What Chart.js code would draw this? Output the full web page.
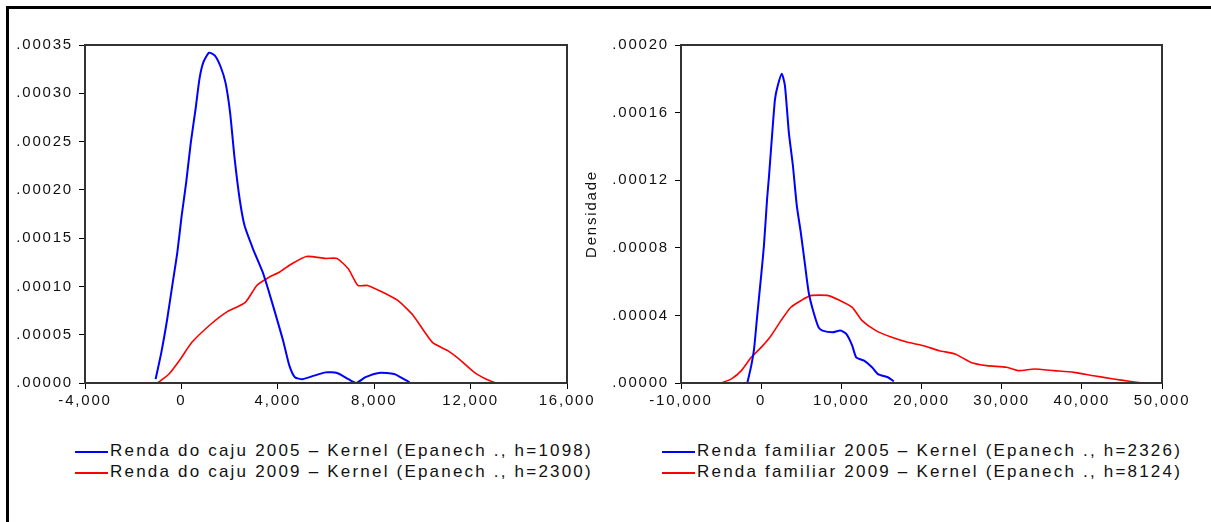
<!DOCTYPE html>
<html>
<head>
<meta charset="utf-8">
<script src="https://cdn.jsdelivr.net/npm/chart.js@4/dist/chart.umd.min.js"></script>
<style>
  body { margin: 0; background: #fff; width: 1211px; height: 522px; overflow: hidden; position: relative; font-family: 'Liberation Sans', Arial, sans-serif; }
  .frame { position: absolute; left: 6px; top: 6px; width: 1220px; height: 530px; border-left: 3px solid #000; border-top: 3px solid #000; }
  canvas { position: absolute; }
  .legend { position: absolute; font-size: 17px; letter-spacing: 2.2px; color: #111; line-height: 21px; white-space: nowrap; }
  .legend .swatch { display: inline-block; width: 33px; height: 2px; vertical-align: middle; margin-right: 2px; }
</style>
</head>
<body>
<div class="frame"></div>
<canvas id="cajuChart" width="600" height="420" style="left:0;top:0"></canvas>
<canvas id="familiarChart" width="636" height="420" style="left:575px;top:0"></canvas>
<div class="legend" id="cajuLegend" style="left:75px;top:440px"></div>
<div class="legend" id="familiarLegend" style="left:662px;top:440px"></div>
<script>
// Renda do caju (left panel)
const cajuX2005 = [-1070, -830, -590, -360, -170, 10, 200, 390, 590, 750, 910, 1150, 1390, 1620, 1830, 2020, 2210, 2420, 2620, 2970, 3370, 3600, 3920, 4240, 4480, 4710, 5030, 5510, 5980, 6460, 6930, 7250, 7640, 8200, 8830, 9230, 9470];
const cajuY2005 = [0.000004, 0.000032, 0.000066, 0.000104, 0.000135, 0.000173, 0.000208, 0.000249, 0.000284, 0.000315, 0.000332, 0.000342, 0.000339, 0.000328, 0.000311, 0.00028, 0.000232, 0.00019, 0.000163, 0.000139, 0.000115, 0.000097, 0.00007, 0.000042, 0.000018, 0.000006, 0.000004, 0.0000076, 0.000011, 0.0000104, 0.000004, 0, 0.000006, 0.0000104, 0.0000093, 0.000004, 0.0000007];
const cajuX2009 = [-990, -515, -40, 436, 1228, 1861, 2653, 3129, 3604, 4079, 4554, 5188, 5980, 6456, 6931, 7327, 7723, 8356, 8990, 9624, 10416, 11050, 11525, 12158, 12634, 13030];
const cajuY2009 = [0, 0.0000093, 0.0000248, 0.0000421, 0.0000611, 0.0000732, 0.0000835, 0.000101, 0.000109, 0.000115, 0.000123, 0.000131, 0.000129, 0.000129, 0.000118, 0.000101, 0.000101, 0.0000939, 0.0000852, 0.0000697, 0.0000421, 0.0000335, 0.0000248, 0.000011, 0.0000041, 0];
const cajuXTicks = [-4000, 0, 4000, 8000, 12000, 16000];
const cajuYTicks = [0, 0.00005, 0.0001, 0.00015, 0.0002, 0.00025, 0.0003, 0.00035];
const cajuLabels = ['Renda do caju 2005 – Kernel (Epanech ., h=1098)', 'Renda do caju 2009 – Kernel (Epanech ., h=2300)'];

// Renda familiar (right panel)
const famX2005 = [-1730, -1235, -890, -494, 0, 346, 741, 988, 1383, 1728, 2074, 2568, 2963, 3457, 3951, 4444, 4938, 5432, 5926, 6420, 7160, 7654, 8889, 9877, 10617, 11358, 11852, 12840, 13827, 14568, 15802, 16543];
const famY2005 = [0, 0.0000103, 0.00002, 0.0000398, 0.0000635, 0.0000813, 0.000109, 0.000123, 0.000148, 0.000168, 0.000176, 0.000183, 0.000176, 0.000148, 0.000129, 0.000105, 0.0000892, 0.0000714, 0.0000537, 0.0000438, 0.0000329, 0.000031, 0.00003, 0.000031, 0.000029, 0.0000221, 0.0000152, 0.0000132, 0.0000093, 0.0000053, 0.0000034, 0.000001];
const famX2009 = [-4938, -3704, -2469, -1235, 0, 1235, 2469, 3704, 4938, 6173, 8395, 9877, 11358, 12593, 14321, 16296, 18272, 20247, 22222, 24198, 26173, 28148, 30617, 32099, 34074, 36543, 39012, 41481, 43951, 45926, 47654];
const famY2009 = [0, 0.0000024, 0.0000073, 0.0000152, 0.0000211, 0.000028, 0.0000369, 0.0000448, 0.0000487, 0.0000517, 0.0000517, 0.0000487, 0.0000448, 0.0000369, 0.000031, 0.000027, 0.0000241, 0.0000221, 0.0000191, 0.0000172, 0.0000122, 0.0000103, 0.0000093, 0.0000073, 0.0000083, 0.0000073, 0.0000063, 0.0000043, 0.0000024, 0.000001, 0];
const famXTicks = [-10000, 0, 10000, 20000, 30000, 40000, 50000];
const famYTicks = [0, 0.00004, 0.00008, 0.00012, 0.00016, 0.0002];
const famLabels = ['Renda familiar 2005 – Kernel (Epanech ., h=2326)', 'Renda familiar 2009 – Kernel (Epanech ., h=8124)'];

const colors = ['#0000FF', '#FF0000'];
const tickFont = { family: "'Liberation Sans', Arial, sans-serif", size: 15 };

const toPoints = (xs, ys) => xs.map((x, i) => ({ x: x, y: ys[i] }));

// box around the plot area + letter spacing for tick text
const framePlugin = {
    id: 'frame',
    beforeDraw(chart) {
        chart.ctx.letterSpacing = '1.8px';
    },
    afterDraw(chart) {
        const { ctx, chartArea: a } = chart;
        ctx.save();
        ctx.strokeStyle = '#333';
        ctx.lineWidth = 2;
        ctx.strokeRect(a.left, a.top, a.right - a.left, a.bottom - a.top);
        ctx.restore();
    }
};

const makeChart = (id, sets, xTicks, yTicks, yWidth, padRight, yTitle) => {
    return new Chart(document.getElementById(id), {
        type: 'line',
        data: {
            datasets: sets.map((s, i) => ({
                data: s,
                borderColor: colors[i],
                borderWidth: i === 0 ? 2 : 1.6,
                pointRadius: 0,
                tension: 0.2,
                fill: false
            }))
        },
        options: {
            responsive: false,
            animation: false,
            layout: { padding: { top: 45, right: padRight, left: 0, bottom: 0 } },
            plugins: { legend: { display: false }, tooltip: { enabled: false } },
            scales: {
                x: {
                    type: 'linear',
                    min: xTicks[0],
                    max: xTicks[xTicks.length - 1],
                    afterBuildTicks: s => { s.ticks = xTicks.map(v => ({ value: v })); },
                    afterFit: s => { s.height = 37; },
                    grid: { drawOnChartArea: false, tickLength: 6, color: '#000' },
                    border: { color: '#333', width: 2 },
                    ticks: {
                        autoSkip: false, maxRotation: 0, padding: 3, color: '#111', font: tickFont,
                        callback: v => v.toLocaleString('en-US')
                    }
                },
                y: {
                    type: 'linear',
                    min: yTicks[0],
                    max: yTicks[yTicks.length - 1],
                    afterBuildTicks: s => { s.ticks = yTicks.map(v => ({ value: v })); },
                    afterFit: s => { s.width = yWidth; },
                    grid: { drawOnChartArea: false, tickLength: 6, color: '#000' },
                    border: { color: '#333', width: 2 },
                    title: {
                        display: !!yTitle, text: yTitle || '', color: '#111',
                        font: { family: "'Liberation Sans', Arial, sans-serif", size: 15 },
                        padding: { top: 8, bottom: 0 }
                    },
                    ticks: {
                        autoSkip: false, padding: 6, color: '#111', font: tickFont,
                        callback: v => v.toFixed(5).replace(/^0/, '')
                    }
                }
            }
        },
        plugins: [framePlugin]
    });
};

makeChart('cajuChart', [toPoints(cajuX2005, cajuY2005), toPoints(cajuX2009, cajuY2009)], cajuXTicks, cajuYTicks, 85, 33, '');
makeChart('familiarChart', [toPoints(famX2005, famY2005), toPoints(famX2009, famY2009)], famXTicks, famYTicks, 106, 49, 'Densidade');

const buildLegend = (id, labels) => {
    const el = document.getElementById(id);
    labels.forEach((label, i) => {
        const row = document.createElement('div');
        const sw = document.createElement('span');
        sw.className = 'swatch';
        sw.style.background = colors[i];
        row.appendChild(sw);
        row.appendChild(document.createTextNode(label));
        el.appendChild(row);
    });
};
buildLegend('cajuLegend', cajuLabels);
buildLegend('familiarLegend', famLabels);
</script>
</body>
</html>
